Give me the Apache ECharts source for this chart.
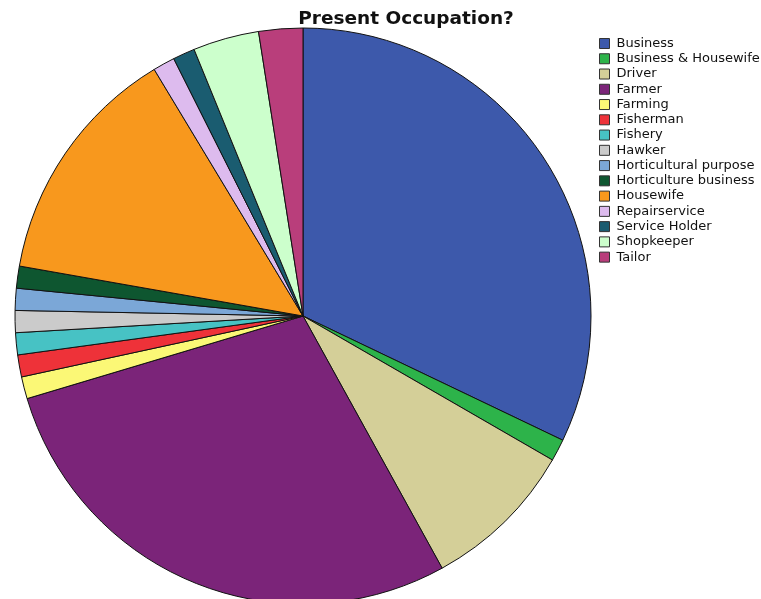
<!DOCTYPE html>
<html>
<head>
<meta charset="utf-8">
<script src="https://cdn.jsdelivr.net/npm/echarts@6/dist/echarts.min.js"></script>
<style>
html,body{margin:0;padding:0;background:#fff;}
#chart{width:761px;height:599px;}
</style>
</head>
<body>
<div id="chart"></div>
<script>
const categories = ["Business","Business & Housewife","Driver","Farmer","Farming","Fisherman","Fishery","Hawker","Horticultural purpose","Horticulture business","Housewife","Repairservice","Service Holder","Shopkeeper","Tailor"];
const counts = [26,1,7,23,1,1,1,1,1,1,11,1,1,3,2];
const colors = ["#3D59AB","#2DB34A","#D4CF98","#7B2479","#FBF876","#EE3239","#47C2C4","#CBCBCB","#7BA7D7","#0E5630","#F8981D","#DDBBEE","#1A5C70","#CCFFCC","#B93E7B"];

const chart = echarts.init(document.getElementById('chart'));
chart.setOption({
  animation: false,
  title: {
    text: 'Present Occupation?',
    left: 401, top: 5, textAlign: 'center',
    textStyle: {fontFamily: 'DejaVu Sans', fontSize: 18.5, fontWeight: 'bold', color: '#111'}
  },
  legend: {
    orient: 'vertical', left: 599, top: 37, padding: 0,
    itemWidth: 10, itemHeight: 10, itemGap: 2.26,
    icon: 'rect',
    itemStyle: {borderColor: '#333', borderWidth: 1},
    textStyle: {fontFamily: 'DejaVu Sans', fontSize: 13, color: '#111', lineHeight: 13, padding: [0,0,0,2]},
    data: categories,
    selectedMode: false
  },
  series: [{
    type: 'pie',
    center: [303, 316],
    radius: 288,
    startAngle: 90,
    clockwise: true,
    label: {show: false},
    labelLine: {show: false},
    emphasis: {disabled: true},
    itemStyle: {borderColor: '#111', borderWidth: 1},
    data: categories.map((c, i) => ({name: c, value: counts[i], itemStyle: {color: colors[i]}}))
  }]
});
</script>
</body>
</html>
